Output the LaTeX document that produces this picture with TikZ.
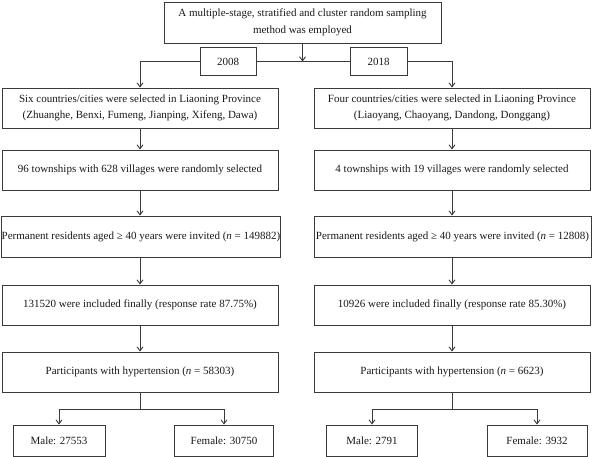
\documentclass[tikz,border=0pt]{standalone}
\usepackage{fontspec}
\setmainfont{Liberation Serif}
\usetikzlibrary{arrows.meta}
\definecolor{ln}{HTML}{3A3A3A}
\tikzset{
  box/.style={draw=ln, line width=0.9pt, rectangle, inner sep=0pt, align=center,
    font=\fontsize{11}{15.5}\selectfont, text=black!90},
  arr/.style={draw=ln, line width=0.9pt, -{Straight Barb[length=4pt,width=6pt]}},
  ln/.style={draw=ln, line width=0.9pt}
}
\begin{document}
\begin{tikzpicture}[x=1pt,y=-1pt]
\useasboundingbox (0,0) rectangle (592,457);
\node[box, minimum width=277pt, minimum height=41pt, font=\fontsize{11}{16.5}\selectfont] (top) at (302.5,22.5)
  {A multiple-stage, stratified and cluster random sampling\\method was employed};
\node[box, minimum width=56pt, minimum height=28pt] (y08) at (228,61.5) {2008};
\node[box, minimum width=57pt, minimum height=28pt] (y18) at (378.5,61.5) {2018};

\node[box, minimum width=276pt, minimum height=40pt] (L1) at (140,108)
  {Six countries/cities were selected in Liaoning Province\\(Zhuanghe, Benxi, Fumeng, Jianping, Xifeng, Dawa)};
\node[box, minimum width=276pt, minimum height=40pt] (R1) at (452,108)
  {Four countries/cities were selected in Liaoning Province\\(Liaoyang, Chaoyang, Dandong, Donggang)};

\node[box, minimum width=276pt, minimum height=40pt] (L2) at (140,170)
  {96 townships with 628 villages were randomly selected};
\node[box, minimum width=276pt, minimum height=40pt] (R2) at (452,170)
  {4 townships with 19 villages were randomly selected};

\node[box, minimum width=278pt, minimum height=41pt] (L3) at (141,236.5)
  {Permanent residents aged ≥ 40 years were invited (\textit{n} = 149882)};
\node[box, minimum width=277pt, minimum height=41pt] (R3) at (452.5,236.5)
  {Permanent residents aged ≥ 40 years were invited (\textit{n} = 12808)};

\node[box, minimum width=276pt, minimum height=40pt] (L4) at (140,305)
  {131520 were included finally (response rate 87.75\%)};
\node[box, minimum width=276pt, minimum height=40pt] (R4) at (452,305)
  {10926 were included finally (response rate 85.30\%)};

\node[box, minimum width=276pt, minimum height=40pt] (L5) at (140,372)
  {Participants with hypertension (\textit{n} = 58303)};
\node[box, minimum width=276pt, minimum height=40pt] (R5) at (452,372)
  {Participants with hypertension (\textit{n} = 6623)};

\node[box, minimum width=92pt, minimum height=31pt] (Lm) at (59,440.5) {Male: 27553};
\node[box, minimum width=99pt, minimum height=31pt] (Lf) at (224,440.5) {Female: 30750};
\node[box, minimum width=91pt, minimum height=31pt] (Rm) at (372,440.5) {Male: 2791};
\node[box, minimum width=100pt, minimum height=31pt] (Rf) at (537,440.5) {Female: 3932};

\coordinate (Ls) at (140,409);
\coordinate (Rs) at (452,409);

\draw[arr] (top.south) -- (top.south |- y08.east);
\draw[arr] (y08.west) -| (L1.north);
\draw[ln] (y08.east) -- (y18.west);
\draw[arr] (y18.east) -| (R1.north);

\draw[arr] (L1) -- (L2);
\draw[arr] (L2) -- (L3.north -| L2.south);
\draw[arr] (L3.south -| L4.north) -- (L4);
\draw[arr] (L4) -- (L5);
\draw[arr] (R1) -- (R2);
\draw[arr] (R2) -- (R3.north -| R2.south);
\draw[arr] (R3.south -| R4.north) -- (R4);
\draw[arr] (R4) -- (R5);

\draw[ln] (L5.south) -- (Ls);
\draw[arr] (Ls) -| (Lm.north);
\draw[arr] (Ls) -| (Lf.north);
\draw[ln] (R5.south) -- (Rs);
\draw[arr] (Rs) -| (Rm.north);
\draw[arr] (Rs) -| (Rf.north);
\end{tikzpicture}
\end{document}
